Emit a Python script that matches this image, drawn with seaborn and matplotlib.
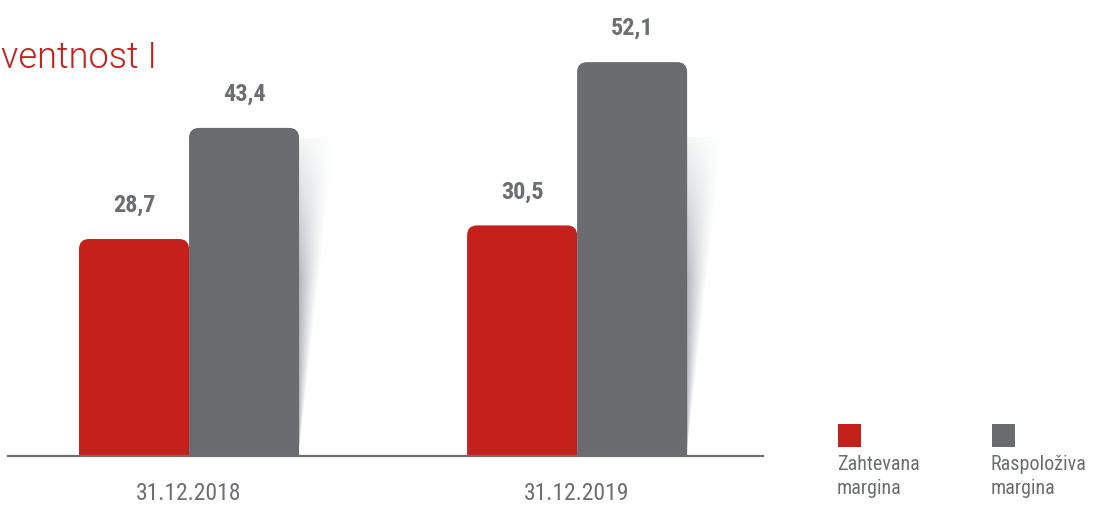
import numpy as np
import pandas as pd
import matplotlib
matplotlib.use("Agg")
import matplotlib.pyplot as plt
import seaborn as sns
from matplotlib.patches import FancyBboxPatch, Polygon, Rectangle

# ---- data ----
dates = ["31.12.2018", "31.12.2019"]
series = ["Zahtevana\nmargina", "Raspoloživa\nmargina"]
zahtevana = [28.7, 30.5]
raspolozhiva = [43.4, 52.1]
title_text = "ventnost I"

RED = "#c4211c"
GREY = "#6b6c70"
TXT = "#6d6e71"

df = pd.DataFrame({
    "date": dates * 2,
    "series": [series[0]] * 2 + [series[1]] * 2,
    "value": zahtevana + raspolozhiva,
})

sns.set_theme(style="white")
narrow = ["Roboto Condensed", "DejaVu Sans"]
plt.rcParams["font.family"] = narrow

W, H = 1093, 507
fig = plt.figure(figsize=(W / 100, H / 100), dpi=100)
ax = fig.add_axes([8 / W, (H - 456) / H, (763 - 8) / W, 456 / H])

sns.barplot(data=df, x="date", y="value", hue="series", order=dates,
            hue_order=series, palette={series[0]: RED, series[1]: GREY},
            width=0.567, gap=0, saturation=1, ax=ax, legend=False)

ymax = 456 / 7.56
ax.set_xlim(-0.4665, 1.479)
ax.set_ylim(0, ymax)

# rounded-top bars + shadows
px_x = 388.0   # pixels per x unit
px_y = 7.56    # pixels per y unit
rx = 10 / px_x
ry = 10 / px_y
bars = list(ax.patches)
for p in bars:
    x, w, h = p.get_x(), p.get_width(), p.get_height()
    fc = p.get_facecolor()
    p.set_visible(False)
    if fc[0] < 0.6:  # grey bar -> shadow on right
        sh_top = min(h - 1.3, (456 - 137) / px_y)
        sw = 36 / px_x
        xr = x + w
        poly = Polygon([(xr, 0.7), (xr, sh_top), (xr + sw, sh_top)],
                       closed=True, transform=ax.transData, facecolor="none",
                       edgecolor="none")
        ax.add_patch(poly)
        nx, ny = 200, 300
        xs = np.linspace(0, 1, nx)
        ys = np.linspace(0, 1, ny)
        X, Y = np.meshgrid(xs, ys)
        localw = np.clip(Y, 1e-3, 1)
        t = X / localw
        a = np.clip(1 - t, 0, 1) ** 1.1
        vf = np.clip((1 - Y) / 0.45, 0, 1)
        alpha = a * (0.08 + 0.5 * vf)
        img = np.zeros((ny, nx, 4))
        img[..., 0] = 0.50
        img[..., 1] = 0.51
        img[..., 2] = 0.55
        img[..., 3] = alpha
        im = ax.imshow(img, origin="lower", extent=(xr, xr + sw, 0.7, sh_top),
                       aspect="auto", interpolation="bilinear", zorder=1)
        im.set_clip_path(poly)
    fb = FancyBboxPatch((x, -ry), w, h + ry,
                        boxstyle=f"round,pad=0,rounding_size={rx}",
                        mutation_aspect=ry / rx, facecolor=fc, edgecolor="none",
                        zorder=2, clip_on=True)
    ax.add_patch(fb)
    lab = f"{h:.1f}".replace(".", ",")
    ax.annotate(lab, (x + w / 2, h), xytext=(0, 22), textcoords="offset pixels",
                ha="center", va="bottom", fontsize=17.5, fontweight="bold",
                color=TXT, family=narrow)

ax.set_xlabel("")
ax.set_ylabel("")
ax.set_yticks([])
for s in ["top", "right", "left"]:
    ax.spines[s].set_visible(False)
ax.spines["bottom"].set_color(TXT)
ax.spines["bottom"].set_linewidth(1.6)
ax.spines["bottom"].set_zorder(5)
ax.tick_params(axis="x", length=0, pad=19, labelsize=17, labelcolor=TXT)

# title (cropped)
fig.text(1 / W, 1 - 58 / H, title_text, color=RED, fontsize=26,
         fontweight=300, family=["Roboto", "DejaVu Sans"],
         ha="left", va="center")

# legend
cols = [RED, GREY]
lx = [838, 992]
for c, xx, lbl in zip(cols, lx, series):
    fig.patches.append(Rectangle((xx / W, 1 - 447 / H), 23 / W, 23 / H,
                                 transform=fig.transFigure, facecolor=c,
                                 edgecolor="none"))
    fig.text(xx / W - 1 / W, 1 - 455 / H, lbl, color=TXT, fontsize=14.5,
             family=narrow, ha="left", va="top", linespacing=1.3)

fig.savefig("out.png", dpi=100)
